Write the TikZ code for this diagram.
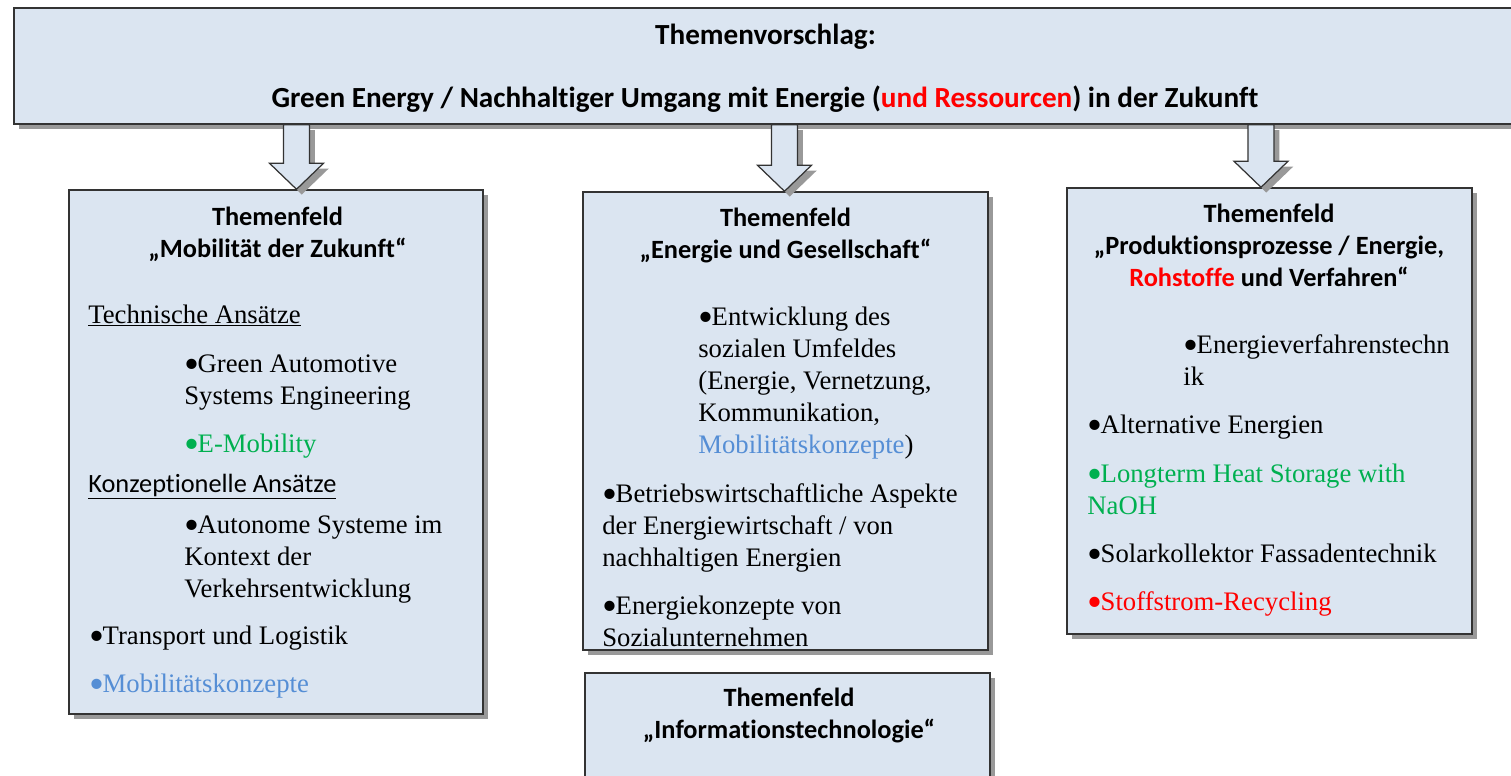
\documentclass[tikz,border=0pt]{standalone}
\usepackage{fontspec}
\setmainfont{Liberation Serif}
\newfontfamily\calib[Ligatures=NoCommon]{Carlito}
\usepackage{xcolor}
\usetikzlibrary{calc,shadows}
\definecolor{feldblau}{HTML}{DBE5F1}
\definecolor{gruen}{HTML}{00B050}
\definecolor{hellblau}{HTML}{558ED5}
\definecolor{rot}{HTML}{FF0000}
\newcommand{\pkt}{\smash{\raisebox{-0.24em}{\scalebox{1.6}{•}}}\kern-0.06em}
\tikzset{
    feld/.style={
        draw=black!80,
        fill=feldblau,
        line width=0.9pt,
        inner sep=0pt,
        drop shadow={shadow xshift=3pt, shadow yshift=-3pt, fill=black!40, opacity=1}
    },
    kopf/.style={
        font=\calib\bfseries\fontsize{15}{18.2}\selectfont,
        align=center,
        anchor=base,
        inner sep=0pt
    },
    punkt/.style={
        font=\fontsize{15.2}{18.2}\selectfont,
        align=left,
        anchor=base west,
        inner sep=0pt
    },
    pfeil/.style={
        draw=black!80,
        fill=feldblau,
        line width=0.7pt,
        drop shadow={shadow xshift=3pt, shadow yshift=-3pt, fill=black!40, opacity=1}
    }
}
% Blockpfeil von #2 nach #3 bei x von #1
\newcommand{\pfeil}[3]{%
    \draw[pfeil] ($(#2.south -| #1)+(-13,0)$) -- ($(#3.north -| #1)+(-13,-26)$)
        -- ($(#3.north -| #1)+(-27,-26)$) -- (#3.north -| #1)
        -- ($(#3.north -| #1)+(27,-26)$) -- ($(#3.north -| #1)+(13,-26)$)
        -- ($(#2.south -| #1)+(13,0)$) -- cycle;
}

\begin{document}
\begin{tikzpicture}[x=0.02cm, y=-0.02cm]
    \useasboundingbox (0,0) rectangle (1511,775);

    % Kaesten
    \node[feld, minimum width=30.22cm, minimum height=2.32cm] (top) at (769.5,66) {};
    \node[feld, minimum width=8.28cm, minimum height=10.48cm] (tf1) at (276,452) {};
    \node[feld, minimum width=8.1cm, minimum height=9.16cm] (tf2) at (785.5,421) {};
    \node[feld, minimum width=8.1cm, minimum height=8.92cm] (tf3) at (1269.5,411) {};
    \node[feld, minimum width=8.1cm, minimum height=2.34cm] (tf4) at (787.5,731.5) {};

    % Pfeile
    \coordinate (a1) at (296.5,0);
    \coordinate (a2) at (784.5,0);
    \coordinate (a3) at (1261,0);
    \foreach \a/\z in {a1/tf1, a2/tf2, a3/tf3}
        \pfeil{\a}{top}{\z};

    % Themenvorschlag (Grundlinie = letzte Zeile)
    \node[kopf, font=\calib\bfseries\fontsize{16.6}{19}\selectfont] (vorschlag) at (765.5,44) {Themenvorschlag:};
    \node[kopf, font=\calib\bfseries\fontsize{16.6}{19}\selectfont] (thema) at (765,107)
        {Green Energy / Nachhaltiger Umgang mit Energie (\textcolor{rot}{und Ressourcen}) in der Zukunft};

    % Themenfeld Mobilitaet
    \node[kopf] (k1) at (277.5,257) {Themenfeld\\„Mobilität der Zukunft“};
    \node[punkt] (ta) at (88,323) {\underline{Technische Ansätze}};
    \node[punkt] (ga) at (184,404) {\pkt Green Automotive\\Systems Engineering};
    \node[punkt, text=gruen] (em) at (184,452) {\pkt E-Mobility};
    \node[punkt, font=\calib\fontsize{15}{18.2}\selectfont] (ka) at (88,492) {\underline{Konzeptionelle Ansätze}};
    \node[punkt] (as) at (184,597) {\pkt Autonome Systeme im\\Kontext der\\Verkehrsentwicklung};
    \node[punkt] (tl) at (89,644) {\pkt Transport und Logistik};
    \node[punkt, text=hellblau] (mk) at (89,692) {\pkt Mobilitätskonzepte};

    % Themenfeld Energie und Gesellschaft
    \node[kopf] (k2) at (785.5,258) {Themenfeld\\„Energie und Gesellschaft“};
    \node[punkt] (eu) at (698,453) {\pkt Entwicklung des\\sozialen Umfeldes\\(Energie, Vernetzung,\\Kommunikation,\\\textcolor{hellblau}{Mobilitätskonzepte})};
    \node[punkt] (ba) at (602,566) {\pkt Betriebswirtschaftliche Aspekte\\der Energiewirtschaft / von\\nachhaltigen Energien};
    \node[punkt] (ek) at (602,646) {\pkt Energiekonzepte von\\Sozialunternehmen};

    % Themenfeld Produktionsprozesse
    \node[kopf] (k3) at (1269,286) {Themenfeld\\„Produktionsprozesse / Energie,\\\textcolor{rot}{Rohstoffe} und Verfahren“};
    \node[punkt] (ev) at (1183,385) {\pkt Energieverfahrenstechn\\ik};
    \node[punkt] (ae) at (1087,433) {\pkt Alternative Energien};
    \node[punkt, text=gruen] (hs) at (1087,514) {\pkt Longterm Heat Storage with\\NaOH};
    \node[punkt] (sf) at (1087,562) {\pkt Solarkollektor Fassadentechnik};
    \node[punkt, text=rot] (sr) at (1087,610) {\pkt Stoffstrom-Recycling};

    % Themenfeld Informationstechnologie
    \node[kopf] (k4) at (789,738) {Themenfeld\\„Informationstechnologie“};
\end{tikzpicture}
\end{document}
